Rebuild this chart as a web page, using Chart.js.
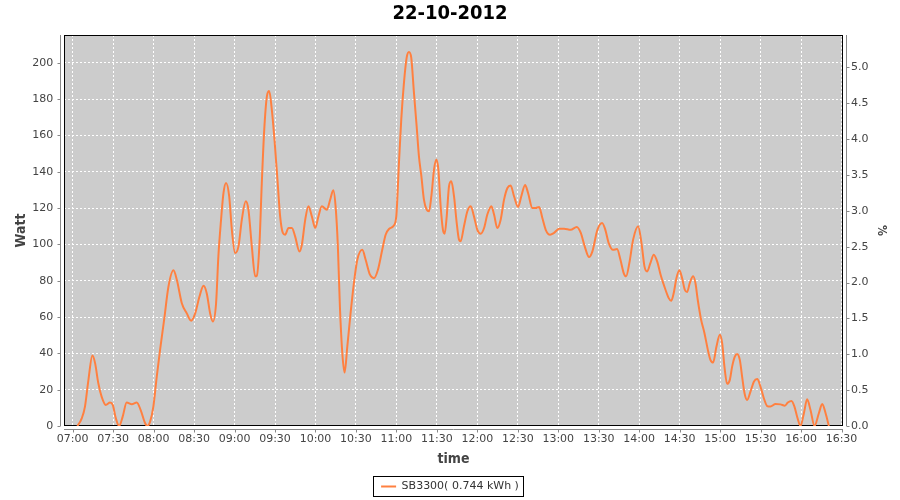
<!DOCTYPE html>
<html><head><meta charset="utf-8">
<script src="https://cdn.jsdelivr.net/npm/chart.js@4"></script>
<style>html,body{margin:0;padding:0;background:#fff}canvas{display:block}</style>
</head><body>
<canvas id="c" width="900" height="500"></canvas>
<script>
const chartTitle = '22-10-2012';
const seriesName = 'SB3300( 0.744 kWh )';
const xAxisTitle = 'time';
const yAxisTitle = 'Watt';
const y2AxisTitle = '%';
const startHour = 7;
const xTickMinutes = [0,30,60,90,120,150,180,210,240,270,300,330,360,390,420,450,480,510,540,570];
const wattTicks = [0,20,40,60,80,100,120,140,160,180,200];
const pctTicks = [0,0.5,1,1.5,2,2.5,3,3.5,4,4.5,5];

// minutes after 07:00
const minutes = [3.5,6.7,9.1,11.6,14.6,16.6,19,21.5,24.5,27.7,29.7,32,34.4,37,40,43.8,47.5,50.4,53.7,55.4,57.4,59.8,62.3,64.8,67.8,71,74.7,77.2,80.9,84.6,87.8,90.8,94,97,99.4,101.9,103.9,106.3,108,110,111.8,113.7,116,118,120.4,122.9,125.4,128.3,130.3,132.8,135.3,136.5,138.5,140.2,142,144,145.7,147.6,149.6,151.8,153.8,155.8,157.5,160,162.5,164.9,168.1,169.9,172.4,174.8,177.3,179.8,182.2,184.7,188.4,190.9,
193.2,194.9,196.6,198.1,199.9,201.6,203.6,206,208.5,211,214.7,217.2,220.4,223.4,226.3,229.5,232,234.5,237.7,239.9,241.9,243.6,245.6,247.6,249.3,251,253,255,256.7,258.5,260.4,262.4,264.2,265.9,267.9,269.6,271.1,272.8,274.5,275.8,277.3,279,280.7,282.7,284.7,286.4,287.6,290.1,292.6,295.1,297.5,300,302.5,305,307.4,310.4,312.4,314.8,317.3,319.8,322.3,324.7,327.2,330.2,332.6,335.4,337.6,340.8,343.3,345.8,348.2,350.7,353.9,356.9,360.6,364.3,369.2,373.7,376.7,379.6,382.8,385.3,389,
392.5,394.9,397.4,400.6,403.6,406.1,408.5,410.3,412.7,415.5,419.2,421.7,423.9,425.9,428.3,430.8,433.3,436.2,439.5,441.9,443.7,445.6,447.6,449.8,451.8,453.8,455.5,457.5,460,461.7,463.4,465.9,468.4,470.9,472.8,474.8,477.3,479.8,481.5,483.2,485.2,487.2,488.9,490.9,492.6,494.6,496.3,498.1,500,502.5,505,507.5,509.9,512.4,514.9,517.3,521.1,524.8,528,530.2,532.9,535.1,537.1,539.6,542.1,544.5,547,550,553.2,555.7,558.2,560.6];
const watts = [0,4.2,10.7,25,38.8,34.6,23.5,16,11.6,12.9,11.6,4.2,0,5,12.9,12,12.9,8.8,1.5,0,2.4,10.7,27,42,58.5,76.8,85.7,80.5,67.6,62,58,62,71.3,77.2,73,62,57.5,67.6,93.4,113.6,128.3,133.8,126.5,108,95.2,98.9,113.6,123.7,119,98.9,82.4,82.7,100.7,133.8,163,181.6,184.4,174.3,157.7,135.7,115.4,106.3,105.3,109,109,104.4,96.1,99.8,113.6,121,115.4,109,115.4,121,119,124.6,
129.8,121,98.9,65.8,40,29.4,43.8,62,78.7,91.5,97,91.5,83.3,81.4,86,97,105.3,108.5,110,115.4,144.9,168.8,189,202.8,205.9,202.8,183.5,165,148.5,137.5,124.6,119.1,118.2,126.5,141.2,146.7,141.2,121,108,105.9,115.4,132,134.7,126.5,111.8,102.6,101.7,110,118.2,121,115.4,108,105.9,109,116.4,121,116.4,109,113.6,124.6,131,132.4,126.5,120.6,126.5,132.7,128.3,120,120,120.6,114.5,108,105.3,106.3,108.6,108.6,108,109.6,106.3,98.9,93,96.1,108,
111.8,108,100.7,97,97.4,91.5,84.2,82.4,89.7,102.6,110,100.7,87.9,85.1,89.7,94.3,90.6,82.4,75,70.4,68.9,73.2,81.4,85.7,81.4,75,73.7,78.7,82.4,78.7,69.5,58.5,51.1,41.9,36.4,34.9,43.8,50.2,45.6,32.7,23.2,25.4,32.7,38.2,39.7,36.4,27.2,18,14.3,18.9,24.4,25.9,21.7,15.3,11,10.7,12.1,11.9,11.2,12.9,13.8,10.7,5.1,0,7,14.7,8.8,0,7,12.1,7,0];

const COND = "'DejaVu Sans Condensed', 'DejaVu Sans', sans-serif";
const SANS = "'DejaVu Sans', sans-serif";
const AXIS_GRAY = '#888888';

function fmtTime(m) {
  const t = startHour * 60 + Math.round(m);
  const h = Math.floor(t / 60), mm = t % 60;
  return String(h).padStart(2, '0') + ':' + String(mm).padStart(2, '0');
}

const plotDecor = {
  id: 'plotDecor',
  beforeDraw(chart) {
    const {ctx, chartArea: a} = chart;
    ctx.save();
    ctx.fillStyle = '#ffffff';
    ctx.fillRect(0, 0, chart.width, chart.height);
    ctx.fillStyle = '#cccccc';
    ctx.fillRect(a.left, a.top, a.right - a.left, a.bottom - a.top);
    ctx.restore();
  },
  beforeDatasetsDraw(chart) {
    const {ctx, chartArea: a, scales} = chart;
    ctx.save();
    ctx.strokeStyle = '#000000';
    ctx.lineWidth = 1;
    ctx.strokeRect(a.left + 0.5, a.top + 0.5, a.right - a.left - 1, a.bottom - a.top - 1);
    ctx.strokeStyle = AXIS_GRAY;
    ctx.beginPath();
    const lx = a.left - 3.5;
    ctx.moveTo(lx, a.top); ctx.lineTo(lx, a.bottom);
    scales.y.ticks.forEach(t => { const p = Math.round(scales.y.getPixelForValue(t.value)) + 0.5; ctx.moveTo(lx - 3, p); ctx.lineTo(lx, p); });
    const rx = a.right + 3.5;
    ctx.moveTo(rx, a.top); ctx.lineTo(rx, a.bottom);
    scales.y1.ticks.forEach(t => { const p = Math.round(scales.y1.getPixelForValue(t.value)) + 0.5; ctx.moveTo(rx, p); ctx.lineTo(rx + 3, p); });
    const by = a.bottom + 3.5;
    ctx.moveTo(a.left, by); ctx.lineTo(a.right, by);
    scales.x.ticks.forEach(t => { const p = Math.round(scales.x.getPixelForValue(t.value)) + 0.5; ctx.moveTo(p, by); ctx.lineTo(p, by + 3); });
    ctx.stroke();
    ctx.restore();
  },
  afterDraw(chart) {
    const lg = chart.legend;
    if (!lg || !lg.legendHitBoxes || !lg.legendHitBoxes.length) return;
    const hb = lg.legendHitBoxes[0];
    const {ctx} = chart;
    ctx.save();
    ctx.strokeStyle = '#000000';
    ctx.lineWidth = 1;
    const l = Math.round(hb.left - 8) + 0.5, r = Math.round(hb.left + hb.width + 4) + 0.5;
    const t = Math.round(hb.top - 5) + 0.5, b = Math.round(hb.top + hb.height + 4) + 0.5;
    ctx.strokeRect(l, t, r - l, b - t);
    ctx.restore();
  }
};

new Chart(document.getElementById('c'), {
  type: 'line',
  data: {
    datasets: [{
      label: seriesName,
      data: minutes.map((m, i) => ({x: m, y: watts[i]})),
      borderColor: '#ff8040',
      backgroundColor: '#ff8040',
      borderWidth: 2,
      pointRadius: 0,
      fill: false,
      cubicInterpolationMode: 'monotone',
      yAxisID: 'y'
    }]
  },
  options: {
    responsive: false,
    animation: false,
    devicePixelRatio: 1,
    layout: {padding: {left: 0, right: 0, top: 0, bottom: 0}},
    plugins: {
      title: {
        display: true, text: chartTitle, color: '#000000',
        font: {family: COND, size: 20, weight: 'bold'},
        padding: {top: 2, bottom: 9}
      },
      legend: {
        position: 'bottom',
        maxHeight: 24,
        labels: {
          font: {family: SANS, size: 11}, color: '#333333',
          usePointStyle: true, pointStyle: 'line', pointStyleWidth: 15,
          padding: 5
        }
      },
      tooltip: {enabled: false}
    },
    scales: {
      x: {
        type: 'linear', min: -6.45, max: 571.1,
        afterBuildTicks: s => { s.ticks = xTickMinutes.map(v => ({value: v})); },
        afterFit: s => { s.height = 50; },
        grid: {color: '#ffffff', lineWidth: 1, drawTicks: false},
        border: {display: false, dash: [2, 2]},
        ticks: {
          font: {family: SANS, size: 11}, color: '#444444', padding: 7,
          autoSkip: false, maxRotation: 0, minRotation: 0,
          callback: v => fmtTime(v)
        },
        title: {display: true, text: xAxisTitle, color: '#444444',
          font: {family: COND, size: 14, weight: 'bold'}, padding: {top: 0, bottom: 8.6}}
      },
      y: {
        type: 'linear', position: 'left', min: 0, max: 215.25,
        afterBuildTicks: s => { s.ticks = wattTicks.map(v => ({value: v})); },
        afterFit: s => { s.width = 64; },
        grid: {color: '#ffffff', lineWidth: 1, drawTicks: false},
        border: {display: false, dash: [2, 2]},
        ticks: {font: {family: SANS, size: 11}, color: '#444444', padding: 10.7,
          callback: v => String(v)},
        title: {display: true, text: yAxisTitle, color: '#444444',
          font: {family: COND, size: 14, weight: 'bold'}, padding: {top: 13.1, bottom: 0}}
      },
      y1: {
        type: 'linear', position: 'right', min: 0, max: 5.45,
        afterBuildTicks: s => { s.ticks = pctTicks.map(v => ({value: v})); },
        afterFit: s => { s.width = 57; },
        grid: {display: false, drawTicks: false},
        border: {display: false},
        ticks: {font: {family: SANS, size: 11}, color: '#444444', padding: 8,
          callback: v => v.toFixed(1)},
        title: {display: true, text: y2AxisTitle, color: '#444444',
          font: {family: COND, size: 12, weight: 'bold'}, padding: {top: 12, bottom: 0}}
      }
    }
  },
  plugins: [plotDecor]
});
</script>
</body></html>
